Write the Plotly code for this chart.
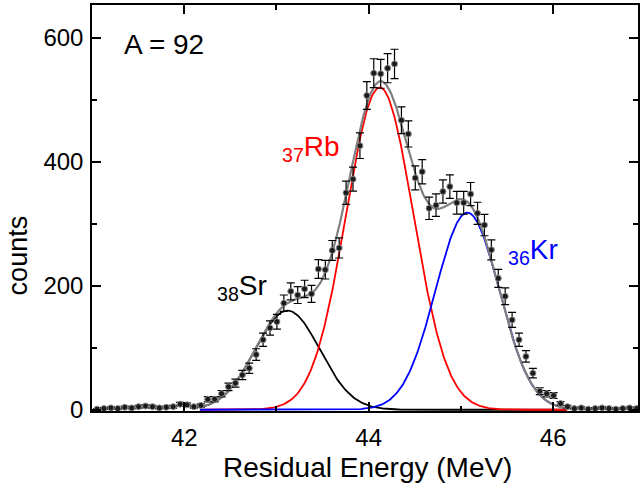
import numpy as np
import plotly.graph_objects as go

# Residual energy bin centres (MeV)
energy = [41.055, 41.130, 41.205, 41.280, 41.355, 41.430, 41.505, 41.580, 41.655, 41.730,
          41.805, 41.880, 41.955, 42.030, 42.105, 42.180, 42.255, 42.330, 42.405, 42.480,
          42.555, 42.630, 42.705, 42.780, 42.855, 42.930, 43.005, 43.080, 43.155, 43.230,
          43.305, 43.380, 43.455, 43.530, 43.605, 43.680, 43.755, 43.830, 43.905, 43.980,
          44.055, 44.130, 44.205, 44.280, 44.355, 44.430, 44.505, 44.580, 44.655, 44.730,
          44.805, 44.880, 44.955, 45.030, 45.105, 45.180, 45.255, 45.330, 45.405, 45.480,
          45.555, 45.630, 45.705, 45.780, 45.855, 45.930, 46.005, 46.080, 46.155, 46.230,
          46.305, 46.380, 46.455, 46.530, 46.605, 46.680, 46.755, 46.830, 46.905]
counts = [1, 2, 3, 2, 4, 3, 5, 6, 5, 3,
          4, 5, 9, 8, 5, 7, 17, 17, 26, 37,
          43, 56, 67, 89, 113, 132, 142, 172, 191, 185,
          195, 187, 227, 226, 257, 261, 350, 372, 426, 507,
          543, 542, 551, 558, 467, 445, 374, 384, 325, 330,
          352, 360, 334, 334, 348, 317, 298, 258, 212, 183,
          145, 113, 86, 59, 30, 26, 23, 10, 5, 2,
          3, 1, 2, 3, 2, 1, 2, 3, 2]

# Gaussian fit components: amplitude, centre, sigma, colour
fit_names = ["Sr", "Rb", "Kr"]
fit_amp = [160, 520, 318]
fit_mu = [43.12, 44.12, 45.07]
fit_sigma = [0.35, 0.365, 0.345]
fit_colors = ["black", "red", "blue"]
fit_range = [42.17, 46.15]

xf = np.linspace(fit_range[0], fit_range[1], 400)
comps = [a * np.exp(-(xf - m) ** 2 / (2 * s ** 2)) for a, m, s in zip(fit_amp, fit_mu, fit_sigma)]
total = sum(comps)

fig = go.Figure()
for name, c, col in zip(fit_names, comps, fit_colors):
    fig.add_trace(go.Scatter(x=xf, y=c, mode="lines", line=dict(color=col, width=1.8),
                             name=name, hoverinfo="skip"))
fig.add_trace(go.Scatter(x=xf, y=total, mode="lines", line=dict(color="#808080", width=2.2),
                         name="fit"))
err = np.sqrt(np.array(counts, dtype=float))
fig.add_trace(go.Scatter(x=energy, y=counts, mode="markers",
                         marker=dict(color="#1a1a1a", size=6, line=dict(color="#8a8a8a", width=1)),
                         error_y=dict(type="data", array=err, visible=True, color="black",
                                      thickness=1.2, width=4),
                         name="data"))

FONT = "Liberation Sans, Arial, sans-serif"
axis_common = dict(showline=True, linecolor="black", linewidth=1.5, mirror="ticks",
                   ticks="inside", ticklen=9, tickwidth=1.5, tickcolor="black",
                   showgrid=False, zeroline=False,
                   tickfont=dict(family=FONT, size=24, color="black"))
fig.update_xaxes(range=[41, 46.92], tickvals=[42, 44, 46], ticklabelstandoff=4,
                 minor=dict(ticks="inside", ticklen=5, tickwidth=1.5, tickcolor="black",
                            tickvals=[43, 45], showgrid=False),
                 **axis_common)
fig.update_yaxes(range=[-2, 653], tickvals=[0, 200, 400, 600], ticklabelstandoff=2,
                 minor=dict(ticks="inside", ticklen=5, tickwidth=1.5, tickcolor="black",
                            tickvals=[100, 300, 500], showgrid=False),
                 **axis_common)

ann = []
ann.append(dict(x=41.32, y=589, xref="x", yref="y", text="A = 92", showarrow=False,
                xanchor="left", yanchor="middle", font=dict(family=FONT, size=28, color="black")))
ann.append(dict(x=42.335, y=198, xref="x", yref="y", text="<sub>38</sub>Sr", showarrow=False,
                xanchor="left", yanchor="middle", font=dict(family=FONT, size=28, color="black")))
ann.append(dict(x=43.04, y=422, xref="x", yref="y", text="<sub>37</sub>Rb", showarrow=False,
                xanchor="left", yanchor="middle", font=dict(family=FONT, size=28, color="red")))
ann.append(dict(x=45.49, y=256, xref="x", yref="y", text="<sub>36</sub>Kr", showarrow=False,
                xanchor="left", yanchor="middle", font=dict(family=FONT, size=28, color="blue")))
ann.append(dict(x=0.505, y=-0.14, xref="paper", yref="paper", text="Residual Energy (MeV)",
                showarrow=False, xanchor="center", yanchor="middle",
                font=dict(family=FONT, size=28, color="black")))
ann.append(dict(x=-0.135, y=0.384, xref="paper", yref="paper", text="counts", textangle=-90,
                showarrow=False, xanchor="center", yanchor="middle",
                font=dict(family=FONT, size=27, color="black")))

fig.update_layout(width=640, height=492, margin=dict(l=92, r=0, t=5, b=81),
                  paper_bgcolor="white", plot_bgcolor="white", showlegend=False,
                  annotations=ann, font=dict(family=FONT))
fig.write_html("out.html", config={"displayModeBar": False},
               post_script="document.body.style.margin='0px';")
